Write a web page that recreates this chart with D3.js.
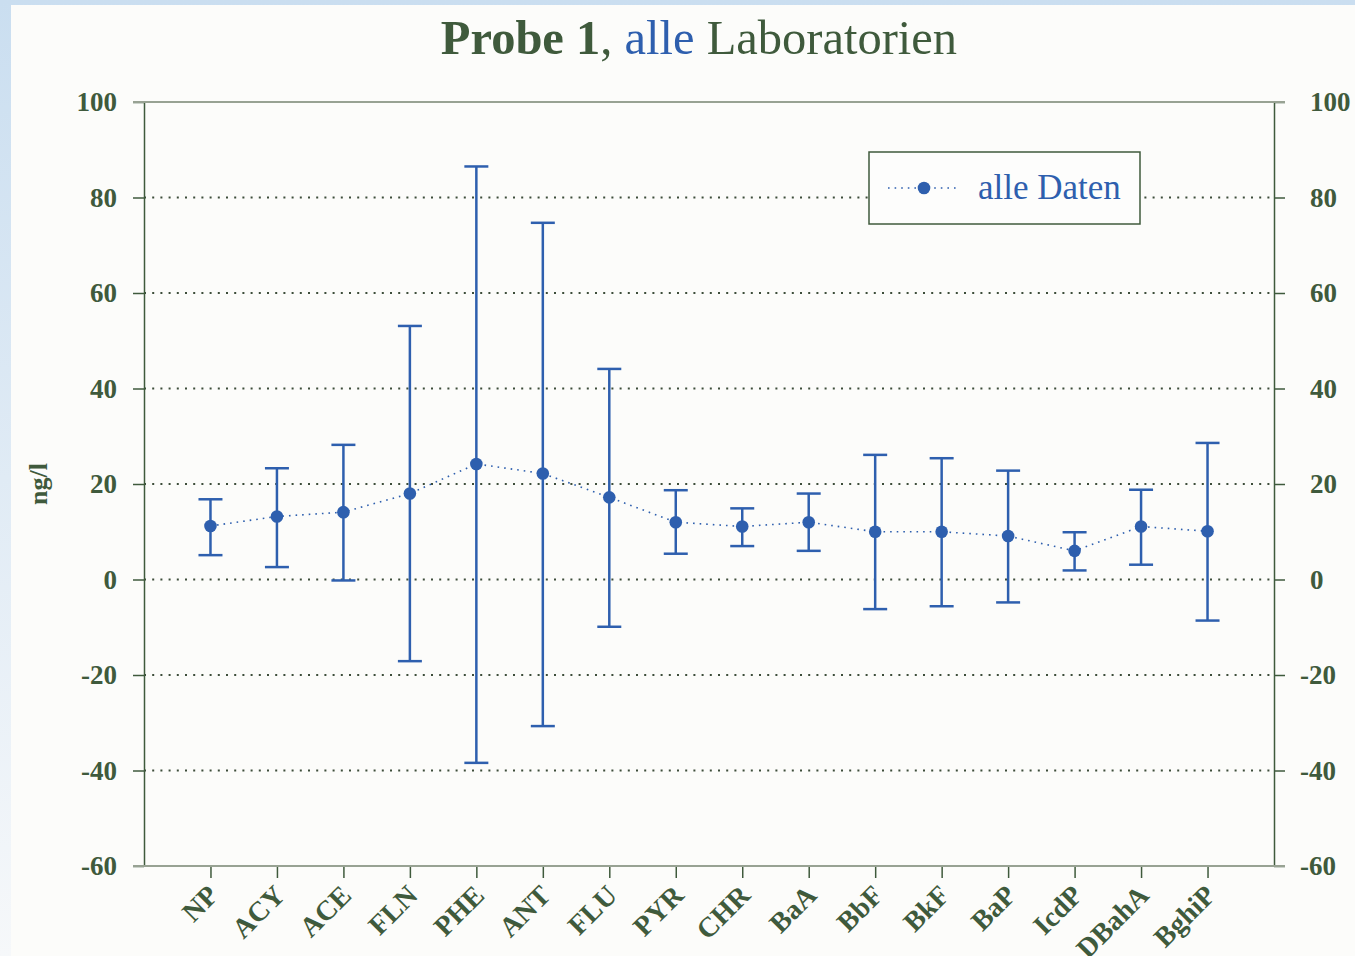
<!DOCTYPE html>
<html>
<head>
<meta charset="utf-8">
<script src="https://cdn.jsdelivr.net/npm/d3@7"></script>
<style>
  body { margin: 0; }
  svg { display: block; }
</style>
</head>
<body>
<script>
// Probe 1, alle Laboratorien - Mittelwert mit Fehlerbalken
const categories = ["NP", "ACY", "ACE", "FLN", "PHE", "ANT", "FLU", "PYR", "CHR", "BaA", "BbF", "BkF", "BaP", "IcdP", "DBahA", "BghiP"];
const means = [11.2, 13.2, 14.1, 18.0, 24.2, 22.2, 17.2, 12.0, 11.1, 12.0, 10.0, 10.0, 9.1, 6.0, 11.1, 10.1];
const upper = [16.8, 23.3, 28.2, 53.1, 86.5, 74.7, 44.1, 18.7, 14.9, 18.0, 26.1, 25.4, 22.8, 9.9, 18.8, 28.6];
const lower = [5.1, 2.6, -0.2, -17.1, -38.4, -30.7, -9.9, 5.4, 7.0, 6.0, -6.2, -5.6, -4.8, 1.9, 3.1, -8.6];
const yTicks = [-60, -40, -20, 0, 20, 40, 60, 80, 100];
const gridTicks = [-40, -20, 0, 20, 40, 60, 80];

const data = categories.map((c, i) => ({name: c, mean: means[i], hi: upper[i], lo: lower[i]}));

const W = 1355, H = 956;
const margin = {left: 144, right: 1274, top: 102, bottom: 866};

const green = "#3f5a3c";
const blue = "#2e5fae";
const font = "'Liberation Serif', 'Times New Roman', serif";

const svg = d3.select("body").append("svg")
    .attr("width", W)
    .attr("height", H);

const defs = svg.append("defs");
const grad = defs.append("linearGradient")
    .attr("id", "bg")
    .attr("x1", 0).attr("y1", 0).attr("x2", 0).attr("y2", 1);
grad.append("stop").attr("offset", "0%").attr("stop-color", "#cadef0");
grad.append("stop").attr("offset", "100%").attr("stop-color", "#f6f8fa");

svg.append("rect").attr("width", W).attr("height", H).attr("fill", "url(#bg)");
svg.append("rect")
    .attr("x", 11).attr("y", 5)
    .attr("width", W - 11).attr("height", H - 5)
    .attr("fill", "#fcfcfa");

const x = d3.scalePoint()
    .domain(categories)
    .range([margin.left, margin.right])
    .padding(1);

const y = d3.scaleLinear()
    .domain([-60, 100])
    .range([margin.bottom, margin.top]);

// grid
svg.append("g")
    .selectAll("line")
    .data(gridTicks)
    .enter()
    .append("line")
        .attr("x1", margin.left)
        .attr("x2", margin.right)
        .attr("y1", d => y(d))
        .attr("y2", d => y(d))
        .attr("stroke", "#3d4d3a")
        .attr("stroke-width", 2)
        .attr("stroke-dasharray", "2,6.2");

// left axis
const leftAxis = d3.axisLeft(y)
    .tickValues(yTicks)
    .tickFormat(d => String(d))
    .tickSize(11)
    .tickSizeOuter(0)
    .tickPadding(16);

const gl = svg.append("g")
    .attr("transform", "translate(" + margin.left + ",0)")
    .call(leftAxis);

// right axis
const rightAxis = d3.axisRight(y)
    .tickValues(yTicks)
    .tickFormat(d => String(d))
    .tickSize(11)
    .tickSizeOuter(0)
    .tickPadding(25);

const gr = svg.append("g")
    .attr("transform", "translate(" + margin.right + ",0)")
    .call(rightAxis);
gr.selectAll("text").attr("dx", d => d < 0 ? -10 : 0);

[gl, gr].forEach(g => {
    g.select(".domain").attr("stroke", green).attr("stroke-width", 1.5);
    g.selectAll(".tick line").attr("stroke", green).attr("stroke-width", 1.5);
    g.selectAll("text")
        .attr("font-family", font)
        .attr("font-size", "27px")
        .attr("font-weight", "bold")
        .attr("fill", green);
});

// bottom axis
const bottomAxis = d3.axisBottom(x)
    .tickSize(12)
    .tickSizeOuter(0);

const gb = svg.append("g")
    .attr("transform", "translate(0," + margin.bottom + ")")
    .call(bottomAxis);
gb.select(".domain").remove();
gb.selectAll(".tick line").attr("stroke", green).attr("stroke-width", 1.5);
gb.selectAll("text")
    .attr("x", 0)
    .attr("y", 0)
    .attr("dy", 0)
    .attr("text-anchor", "end")
    .attr("transform", "translate(9,31) rotate(-45)")
    .attr("font-family", font)
    .attr("font-size", "28px")
    .attr("font-weight", "bold")
    .attr("fill", green);

// top and bottom frame lines
svg.append("g")
    .selectAll("line")
    .data([100, -60])
    .enter()
    .append("line")
        .attr("x1", margin.left - 11)
        .attr("x2", margin.right + 11)
        .attr("y1", d => y(d))
        .attr("y2", d => y(d))
        .attr("stroke", "#98a293")
        .attr("stroke-width", 2.2);

// y label
svg.append("text")
    .attr("transform", "translate(47," + y(20) + ") rotate(-90)")
    .attr("text-anchor", "middle")
    .attr("font-family", font)
    .attr("font-size", "26px")
    .attr("font-weight", "bold")
    .attr("fill", green)
    .text("ng/l");

// connecting dotted line
const line = d3.line()
    .x(d => x(d.name))
    .y(d => y(d.mean));

svg.append("path")
    .datum(data)
    .attr("d", line)
    .attr("fill", "none")
    .attr("stroke", blue)
    .attr("stroke-width", 1.6)
    .attr("stroke-dasharray", "1.6,5");

// error bars
const eb = svg.append("g")
    .selectAll("g")
    .data(data)
    .enter()
    .append("g")
        .attr("stroke", blue)
        .attr("stroke-width", 2.5);

eb.append("line")
    .attr("x1", d => x(d.name))
    .attr("x2", d => x(d.name))
    .attr("y1", d => y(d.hi))
    .attr("y2", d => y(d.lo));
eb.append("line")
    .attr("x1", d => x(d.name) - 12)
    .attr("x2", d => x(d.name) + 12)
    .attr("y1", d => y(d.hi))
    .attr("y2", d => y(d.hi));
eb.append("line")
    .attr("x1", d => x(d.name) - 12)
    .attr("x2", d => x(d.name) + 12)
    .attr("y1", d => y(d.lo))
    .attr("y2", d => y(d.lo));

svg.append("g")
    .selectAll("circle")
    .data(data)
    .enter()
    .append("circle")
        .attr("cx", d => x(d.name))
        .attr("cy", d => y(d.mean))
        .attr("r", 6.3)
        .attr("fill", blue);

// legend
const lg = svg.append("g").attr("transform", "translate(869,152)");
lg.append("rect")
    .attr("width", 271)
    .attr("height", 72)
    .attr("fill", "#fdfdfc")
    .attr("stroke", green)
    .attr("stroke-width", 1.5);
lg.append("line")
    .attr("x1", 19).attr("x2", 91)
    .attr("y1", 36).attr("y2", 36)
    .attr("stroke", blue)
    .attr("stroke-width", 1.6)
    .attr("stroke-dasharray", "1.6,5");
lg.append("circle")
    .attr("cx", 55).attr("cy", 36).attr("r", 6.3)
    .attr("fill", blue);
lg.append("text")
    .attr("x", 109)
    .attr("y", 47)
    .attr("font-family", font)
    .attr("font-size", "35px")
    .attr("fill", blue)
    .text("alle Daten");

// title
const title = svg.append("text")
    .attr("x", 699)
    .attr("y", 54)
    .attr("text-anchor", "middle")
    .attr("font-family", font)
    .attr("font-size", "48.5px")
    .attr("fill", green);
title.append("tspan").attr("font-weight", "bold").text("Probe 1");
title.append("tspan").text(", ");
title.append("tspan").attr("fill", blue).text("alle");
title.append("tspan").text(" Laboratorien");
</script>
</body>
</html>
